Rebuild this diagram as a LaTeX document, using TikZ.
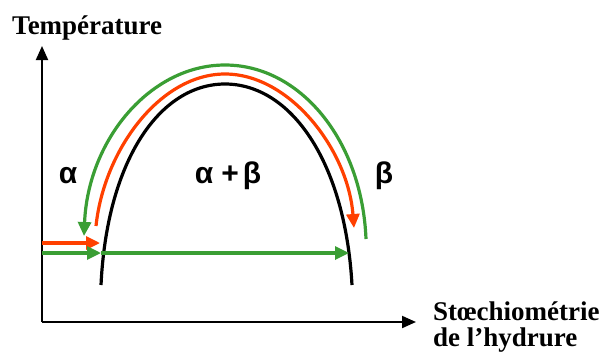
\documentclass[tikz,border=0pt]{standalone}
\usepackage{fontspec}
\setmainfont{Liberation Serif}
\newfontfamily\greekfont{Liberation Sans}
\usetikzlibrary{arrows.meta}
\definecolor{arcgreen}{RGB}{58,158,52}
\definecolor{arcred}{RGB}{255,64,0}
\begin{document}
\begin{tikzpicture}[x=1pt,y=-1pt,
  axis/.style={line width=2pt,-{Triangle[length=14pt,width=12pt]}},
  dome/.style={line width=3.2pt},
  redarc/.style={line width=3.2pt,arcred,-{Triangle[length=14pt,width=13pt]}},
  greenarc/.style={line width=3.2pt,arcgreen,-{Triangle[length=14pt,width=13pt]}},
  title/.style={font=\bfseries\fontsize{27}{31}\selectfont,inner sep=0pt},
  phase/.style={font=\greekfont\bfseries\fontsize{30}{34}\selectfont,inner sep=0pt,anchor=base}]
\useasboundingbox (0,0) rectangle (600,354);
\coordinate (O) at (42,322);
\coordinate (ytip) at (42,46);
\coordinate (xtip) at (416,322);
\draw[axis] (O) -- (ytip);
\draw[axis] (O) -- (xtip);
\node[title,anchor=base west] (ylab) at (12,34) {Température};
\node[title,anchor=base west] (xlab) at (433,320) {Stœchiométrie};
\node[title,anchor=base west] (xlab2) at (433,346) {de l’hydrure};
% dome
\coordinate (bl) at (101,285);
\coordinate (bt) at (225,84);
\coordinate (br) at (352,285);
\draw[dome] (bl) .. controls (107,160) and (160,84) .. (bt) .. controls (290,84) and (345,160) .. (br);
% red arc
\coordinate (rs) at (96,226);
\coordinate (rt) at (225,74);
\coordinate (re) at (354,228);
\draw[redarc] (rs) .. controls (104,150) and (160,74) .. (rt) .. controls (290,74) and (348,150) .. (re);
% green arc
\coordinate (gs) at (366,239);
\coordinate (gt) at (225,65);
\coordinate (ge) at (84,236);
\draw[greenarc] (gs) .. controls (362,140) and (300,65) .. (gt) .. controls (150,65) and (88,140) .. (ge);
% horizontal arrows
\coordinate (rh0) at (42,243);
\coordinate (rh1) at (100,243);
\coordinate (gh0) at (42,253);
\coordinate (gh1) at (101,253);
\coordinate (gh2) at (349,253);
\draw[redarc] (rh0) -- (rh1);
\draw[greenarc] (gh0) -- (gh1);
\draw[greenarc] (gh1) -- (gh2);
% labels
\node[phase] (alpha) at (68,183) {α};
\node[phase] (ab) at (228,183) {α\hspace{8pt}+\hspace{4pt}β};
\node[phase] (beta) at (384,183) {β};
\end{tikzpicture}
\end{document}
